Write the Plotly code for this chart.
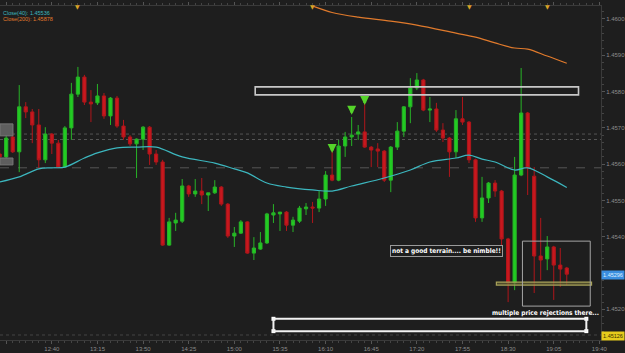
import plotly.graph_objects as go
import pandas as pd

DAY = "2013-01-01 "

# ---- candle data (5-minute bars, 12:00 .. 19:15) ----
opens = [1.45628, 1.45620, 1.45675, 1.45634, 1.45758, 1.45744, 1.45708, 1.45612, 1.45683, 1.45658,
         1.45592, 1.45700, 1.45793, 1.45840, 1.45771, 1.45769, 1.45788, 1.45733, 1.45782, 1.45705,
         1.45675, 1.45656, 1.45669, 1.45702, 1.45628, 1.45606, 1.45377, 1.45438, 1.45443, 1.45540,
         1.45518, 1.45526, 1.45515, 1.45521, 1.45537, 1.45490, 1.45402, 1.45410, 1.45441, 1.45355,
         1.45366, 1.45383, 1.45460, 1.45463, 1.45468, 1.45432, 1.45443, 1.45477, 1.45482, 1.45479,
         1.45504, 1.45570, 1.45556, 1.45650, 1.45675, 1.45683, 1.45689, 1.45647, 1.45642, 1.45636,
         1.45556, 1.45647, 1.45691, 1.45758, 1.45810, 1.45832, 1.45749, 1.45752, 1.45694, 1.45672,
         1.45634, 1.45725, 1.45716, 1.45612, 1.45452, 1.45507, 1.45548, 1.45526, 1.45394, 1.45273,
         1.45570, 1.45741, 1.45567, 1.45347, 1.45339, 1.45372, 1.45322, 1.45314]
highs = [1.45639, 1.45680, 1.45689, 1.45818, 1.45771, 1.45752, 1.45752, 1.45702, 1.45686, 1.45667,
         1.45705, 1.45824, 1.45868, 1.45846, 1.45804, 1.45821, 1.45796, 1.45785, 1.45788, 1.45722,
         1.45680, 1.45671, 1.45705, 1.45705, 1.45639, 1.45612, 1.45452, 1.45466, 1.45559, 1.45543,
         1.45559, 1.45562, 1.45521, 1.45556, 1.45540, 1.45493, 1.45427, 1.45446, 1.45443, 1.45399,
         1.45413, 1.45466, 1.45490, 1.45468, 1.45471, 1.45455, 1.45485, 1.45493, 1.45496, 1.45526,
         1.45581, 1.45645, 1.45667, 1.45689, 1.45730, 1.45708, 1.45769, 1.45650, 1.45658, 1.45639,
         1.45650, 1.45716, 1.45760, 1.45837, 1.45851, 1.45835, 1.45785, 1.45769, 1.45713, 1.45675,
         1.45749, 1.45785, 1.45719, 1.45615, 1.45565, 1.45551, 1.45556, 1.45529, 1.45397, 1.45620,
         1.45865, 1.45744, 1.45592, 1.45452, 1.45402, 1.45375, 1.45369, 1.45317]
lows = [1.45612, 1.45617, 1.45631, 1.45578, 1.45727, 1.45658, 1.45590, 1.45603, 1.45628, 1.45590,
        1.45590, 1.45667, 1.45785, 1.45763, 1.45716, 1.45763, 1.45725, 1.45708, 1.45700, 1.45667,
        1.45650, 1.45562, 1.45639, 1.45598, 1.45598, 1.45375, 1.45375, 1.45416, 1.45438, 1.45510,
        1.45510, 1.45490, 1.45471, 1.45518, 1.45485, 1.45397, 1.45372, 1.45408, 1.45353, 1.45336,
        1.45364, 1.45380, 1.45438, 1.45416, 1.45416, 1.45413, 1.45438, 1.45460, 1.45438, 1.45468,
        1.45485, 1.45553, 1.45553, 1.45620, 1.45650, 1.45667, 1.45645, 1.45592, 1.45592, 1.45551,
        1.45523, 1.45639, 1.45675, 1.45713, 1.45804, 1.45746, 1.45716, 1.45689, 1.45661, 1.45565,
        1.45617, 1.45708, 1.45603, 1.45441, 1.45441, 1.45493, 1.45510, 1.45358, 1.45220, 1.45253,
        1.45567, 1.45515, 1.45245, 1.45281, 1.45308, 1.45226, 1.45262, 1.45267]
closes = [1.45620, 1.45672, 1.45634, 1.45758, 1.45744, 1.45708, 1.45612, 1.45683, 1.45658, 1.45592,
          1.45700, 1.45793, 1.45840, 1.45771, 1.45766, 1.45788, 1.45733, 1.45782, 1.45705, 1.45675,
          1.45656, 1.45669, 1.45702, 1.45628, 1.45606, 1.45377, 1.45441, 1.45446, 1.45540, 1.45518,
          1.45526, 1.45515, 1.45521, 1.45537, 1.45490, 1.45402, 1.45410, 1.45441, 1.45355, 1.45369,
          1.45383, 1.45463, 1.45466, 1.45468, 1.45432, 1.45446, 1.45479, 1.45482, 1.45479, 1.45504,
          1.45570, 1.45556, 1.45650, 1.45675, 1.45680, 1.45689, 1.45647, 1.45639, 1.45636, 1.45556,
          1.45647, 1.45691, 1.45758, 1.45810, 1.45832, 1.45749, 1.45752, 1.45694, 1.45672, 1.45634,
          1.45725, 1.45716, 1.45612, 1.45452, 1.45507, 1.45548, 1.45526, 1.45394, 1.45273, 1.45570,
          1.45741, 1.45590, 1.45347, 1.45336, 1.45372, 1.45322, 1.45311, 1.45297]

# ---- moving averages (read at sample times) ----
ma40_times = ["12:00", "12:15", "12:30", "12:40", "12:50", "13:05", "13:15", "13:30", "13:45", "14:00",
              "14:20", "14:45", "15:00", "15:10", "15:25", "15:40", "16:00", "16:15", "16:30", "16:55",
              "17:15", "17:30", "17:50", "18:00", "18:10", "18:20", "18:35", "18:45", "19:00", "19:15"]
ma40_vals = [1.45551, 1.45565, 1.45587, 1.45590, 1.45592, 1.45617, 1.45631, 1.45645, 1.45647, 1.45647,
             1.45620, 1.45603, 1.45587, 1.45576, 1.45548, 1.45537, 1.45529, 1.45526, 1.45540, 1.45562,
             1.45584, 1.45606, 1.45617, 1.45625, 1.45614, 1.45606, 1.45584, 1.45590, 1.45565, 1.45536]
ma200_times = ["15:50", "16:00", "16:15", "16:35", "17:00", "17:20", "17:50", "18:05", "18:20", "18:35",
               "18:45", "19:00", "19:15"]
ma200_vals = [1.46050, 1.46036, 1.46018, 1.46005, 1.45994, 1.45983, 1.45961, 1.45950, 1.45934, 1.45920,
              1.45917, 1.45898, 1.45878]

y_ticks = [1.4520, 1.4530, 1.4540, 1.4550, 1.4560, 1.4570, 1.4580, 1.4590, 1.4600]
# the 1.4530 label is covered by the last-price tag in the reference
y_ticktext = ["1.4520", "", "1.4540", "1.4550", "1.4560", "1.4570", "1.4580", "1.4590", "1.4600"]
arrow_times = ["16:15", "16:30", "16:40"]
arrow_prices = [1.45631, 1.45736, 1.45763]
event_times = ["12:00", "13:00", "16:00", "18:00", "19:00"]
h_levels = [1.45683, 1.45668]
h_level2 = 1.45590

times = pd.date_range(DAY + "12:00", periods=len(opens), freq="5min")
T = lambda s: DAY + s

BG = "#1e1e1e"
fig = go.Figure()
fig.add_trace(go.Candlestick(
    x=times, open=opens, high=highs, low=lows, close=closes,
    increasing=dict(line=dict(color="#27b327", width=1), fillcolor="#22cc22"),
    decreasing=dict(line=dict(color="#b0161b", width=1), fillcolor="#c8181e"),
    whiskerwidth=0, showlegend=False, hoverinfo="skip"))
fig.add_trace(go.Scatter(x=[T(t) for t in ma40_times], y=ma40_vals, mode="lines",
                         line=dict(color="#3cb6be", width=1.2, shape="spline"),
                         showlegend=False, hoverinfo="skip"))
fig.add_trace(go.Scatter(x=[T(t) for t in ma200_times], y=ma200_vals, mode="lines",
                         line=dict(color="#e07a2c", width=1.2, shape="spline"),
                         showlegend=False, hoverinfo="skip"))

shapes = []
for lv in h_levels:
    shapes.append(dict(type="line", xref="paper", x0=0, x1=1, yref="y", y0=lv, y1=lv,
                       line=dict(color="#555555", width=1, dash="dot"), layer="below"))
shapes.append(dict(type="line", xref="paper", x0=0, x1=1, yref="y", y0=h_level2, y1=h_level2,
                   line=dict(color="#555555", width=1, dash="dash"), layer="below"))
shapes.append(dict(type="line", xref="paper", x0=0, x1=1, yref="paper", y0=0.015, y1=0.015,
                   line=dict(color="#444444", width=1, dash="dot")))
# left level labels
shapes.append(dict(type="rect", xref="paper", x0=0, x1=0.0216, yref="y", y0=1.45678, y1=1.45711,
                   fillcolor="#5e5e5e", line=dict(color="#777777", width=1)))
shapes.append(dict(type="rect", xref="paper", x0=0, x1=0.0216, yref="y", y0=1.45598, y1=1.45617,
                   fillcolor="#5e5e5e", line=dict(color="#777777", width=1)))
# upper white zone
shapes.append(dict(type="rect", xref="x", yref="y", x0=T("15:16"), x1=T("19:24"),
                   y0=1.45791, y1=1.45813, line=dict(color="#c8c8c8", width=1.6)))
# yellow support zone
shapes.append(dict(type="rect", xref="x", yref="y", x0=T("18:21"), x1=T("19:34"),
                   y0=1.45267, y1=1.45275, line=dict(color="#a8a25a", width=1.2),
                   fillcolor="rgba(110,105,50,0.6)"))
# grey box
shapes.append(dict(type="rect", xref="x", yref="y", x0=T("18:41"), x1=T("19:33"),
                   y0=1.45209, y1=1.45388, line=dict(color="#a5a5a5", width=1)))
# bottom white zone
shapes.append(dict(type="rect", xref="x", yref="y", x0=T("15:30"), x1=T("19:30"),
                   y0=1.45140, y1=1.45174, line=dict(color="#f2f2f2", width=2)))

fig.add_trace(go.Scatter(x=[T("15:30"), T("19:30"), T("15:30"), T("19:30")],
                         y=[1.45174, 1.45174, 1.45140, 1.45140], mode="markers",
                         marker=dict(symbol="square", size=4, color="#ffffff"),
                         showlegend=False, hoverinfo="skip", cliponaxis=False))

ann = []
for t, p in zip(arrow_times, arrow_prices):
    ann.append(dict(x=T(t), y=p, xref="x", yref="y", text="", showarrow=True,
                    ax=0, ay=-10, arrowhead=2, arrowsize=0.6, arrowwidth=3, arrowcolor="#55d42a"))
for t in event_times:
    ann.append(dict(x=T(t), y=1, xref="x", yref="paper", text="▼", showarrow=False,
                    yanchor="middle", yshift=0, font=dict(size=6, color="#d9a326", family="DejaVu Sans")))
ann.append(dict(x=0.002, y=0.979, xref="paper", yref="paper", text="Close(40): 1.45536",
                showarrow=False, xanchor="left", yanchor="middle",
                font=dict(size=5.5, color="#3cb6be", family="Arial")))
ann.append(dict(x=0.002, y=0.961, xref="paper", yref="paper", text="Close(200): 1.45878",
                showarrow=False, xanchor="left", yanchor="middle",
                font=dict(size=5.5, color="#e07a2c", family="Arial")))
ann.append(dict(x=T("17:43"), y=1.45361, xref="x", yref="y",
                text="<b>not a good terrain.... be nimble!!</b>", showarrow=False,
                bgcolor=BG, bordercolor="#9a9a9a", borderwidth=1, borderpad=1,
                font=dict(size=6.5, color="#ffffff", family="Liberation Sans Narrow, DejaVu Sans Condensed, Arial")))
ann.append(dict(x=T("18:59"), y=1.45190, xref="x", yref="y",
                text="<b>multiple price rejections there...</b>", showarrow=False,
                font=dict(size=6.5, color="#ffffff", family="Liberation Sans Narrow, DejaVu Sans Condensed, Arial")))
ann.append(dict(x=1, y=1.45296, xref="paper", yref="y", text="1.45296", showarrow=False,
                xanchor="left", yanchor="middle", bgcolor="#3a8ee0", borderpad=1, width=20,
                font=dict(size=5.5, color="#dfeeff", family="Arial")))
ann.append(dict(x=1, y=1.45126, xref="paper", yref="y", text="1.45126", showarrow=False,
                xanchor="left", yanchor="middle", bgcolor="#e6cb1c", borderpad=1, width=20,
                font=dict(size=5.5, color="#3a3000", family="Arial")))

fig.update_layout(
    width=625, height=353,
    margin=dict(l=0, r=22, t=6, b=13),
    paper_bgcolor=BG, plot_bgcolor=BG,
    showlegend=False, shapes=shapes, annotations=ann,
    xaxis=dict(type="date", range=[T("12:00:15"), T("19:41:15")],
               rangeslider=dict(visible=False), tickformat="%H:%M",
               tick0=T("12:05"), dtick=35 * 60 * 1000,
               ticks="outside", ticklen=3, tickcolor="#555555",
               tickfont=dict(size=6, color="#8c8c8c", family="Arial"),
               minor=dict(dtick=5 * 60 * 1000, ticks="outside", ticklen=2, tickcolor="#444444"),
               showgrid=False, zeroline=False, showline=True, linecolor="#3a3a3a", mirror="ticks"),
    yaxis=dict(side="right", range=[1.451156, 1.460358], tickvals=y_ticks, ticktext=y_ticktext,
               ticks="outside", ticklen=3, tickcolor="#555555",
               tickfont=dict(size=6, color="#8c8c8c", family="Arial"),
               minor=dict(dtick=0.0002, ticks="outside", ticklen=2, tickcolor="#444444"),
               showgrid=False, zeroline=False, showline=True, linecolor="#3a3a3a"),
)

fig.write_html("out.html")
